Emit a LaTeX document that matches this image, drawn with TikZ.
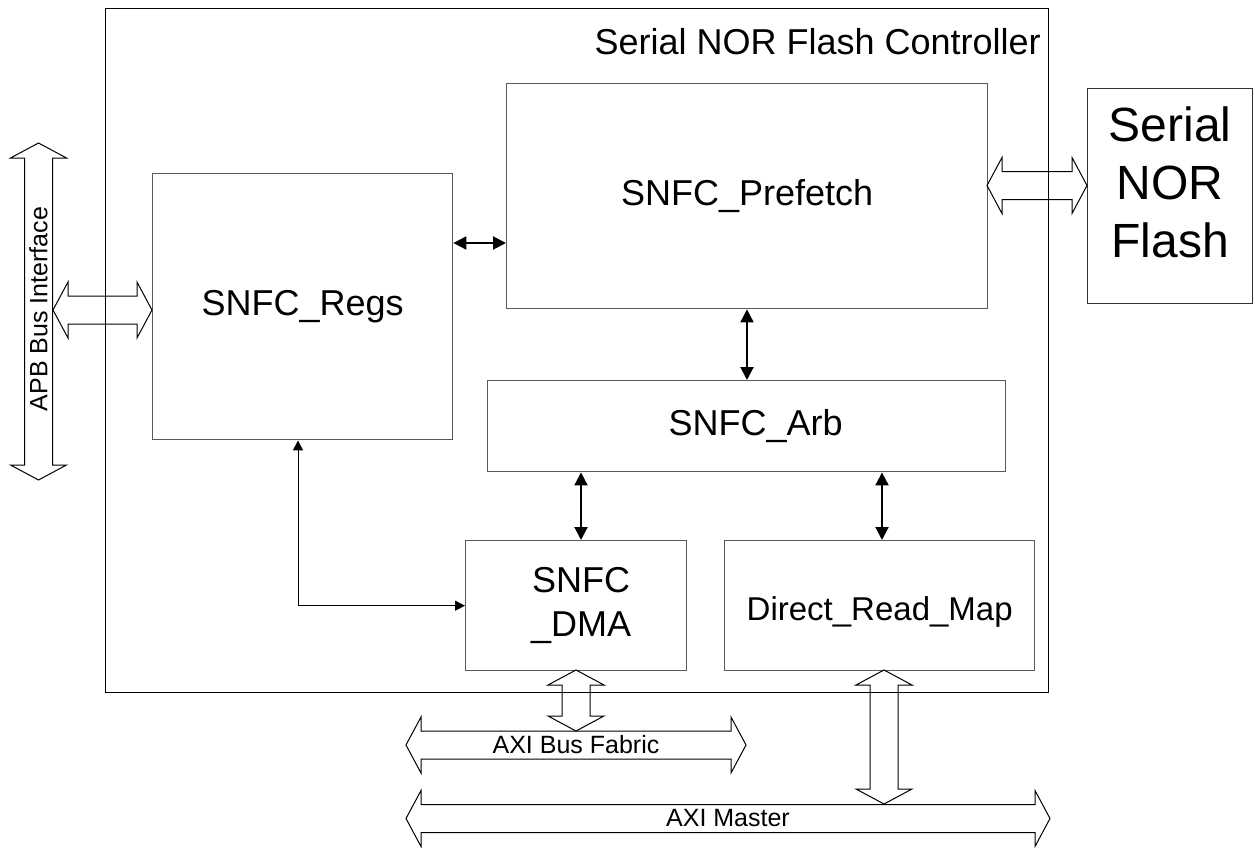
\documentclass[tikz,border=0pt]{standalone}
\usepackage{fontspec}
\setmainfont{Liberation Sans}
\usetikzlibrary{arrows.meta,calc}
\newcommand\hbusarrow[3]{%
  \draw[bus] (#1,#3) -- (#1+15,#3-28) -- (#1+15,#3-14) -- (#2-15,#3-14) -- (#2-15,#3-28) -- (#2,#3)
    -- (#2-15,#3+28) -- (#2-15,#3+14) -- (#1+15,#3+14) -- (#1+15,#3+28) -- cycle;}
\newcommand\vbusarrow[3]{%
  \draw[bus] (#1,#2) -- (#1+28,#2+15) -- (#1+14,#2+15) -- (#1+14,#3-15) -- (#1+28,#3-15) -- (#1,#3)
    -- (#1-28,#3-15) -- (#1-14,#3-15) -- (#1-14,#2+15) -- (#1-28,#2+15) -- cycle;}
\begin{document}
\begin{tikzpicture}[x=1pt,y=-1pt,
  blk/.style={draw=black!65, line width=1.4pt, inner sep=0pt, anchor=north west},
  lbl/.style={font=\fontsize{36}{44}\selectfont, align=center, inner sep=0pt},
  bus/.style={draw=black, line width=1pt, line join=miter},
  busl/.style={font=\fontsize{25}{29}\selectfont},
  tarr/.style={line width=2pt, {Triangle[length=13pt,width=13pt]}-{Triangle[length=13pt,width=13pt]}},
  narr/.style={line width=1pt, {Triangle[length=10pt,width=10pt]}-{Triangle[length=10pt,width=10pt]}}]
\useasboundingbox (0,0) rectangle (1255,848);

% outer controller box
\node[blk, draw=black, line width=1.2pt, minimum width=943pt, minimum height=684pt] (ctl) at (105,8) {};
\node[lbl, anchor=base east] (title) at (1041,55) {Serial NOR Flash Controller};

% blocks
\node[blk, minimum width=481pt, minimum height=225pt] (pre) at (506,83) {};
\node[lbl] (pretxt) at (pre.center) {SNFC\_Prefetch};
\node[blk, minimum width=300pt, minimum height=266pt] (regs) at (152,173) {};
\node[lbl] (regstxt) at (regs.center) {SNFC\_Regs};
\node[blk, minimum width=518pt, minimum height=91pt] (arb) at (487,380) {};
\node[lbl] (arbtxt) at ($(arb.center)+(9,0)$) {SNFC\_Arb};
\node[blk, minimum width=221pt, minimum height=130pt] (dma) at (465,540) {};
\node[lbl] (dmatxt) at ($(dma.center)+(5,0)$) {SNFC\\\_DMA};
\node[blk, minimum width=310pt, minimum height=130pt] (drm) at (724,540) {};
\node[lbl, font=\fontsize{33}{40}\selectfont] (drmtxt) at ($(drm.center)+(0,6)$) {Direct\_Read\_Map};
\node[blk, draw=black!80, minimum width=165pt, minimum height=215pt] (flash) at (1087,88) {};
\node[lbl, font=\fontsize{48}{58}\selectfont] (flashtxt) at ($(flash.center)+(0,-14)$) {Serial\\NOR\\Flash};

% thin connectors
\coordinate (ry) at (0,243);
\draw[tarr] (regs.east |- ry) -- (pre.west |- ry);
\coordinate (px) at (747,0);
\draw[tarr] (pre.south -| px) -- (arb.north -| px);
\coordinate (ax1) at (581,0);
\draw[tarr] (arb.south -| ax1) -- (dma.north -| ax1);
\coordinate (ax2) at (882,0);
\draw[tarr] (arb.south -| ax2) -- (drm.north -| ax2);
\coordinate (rx) at (298,0);
\draw[narr] (regs.south -| rx) |- (dma.west);

% bus arrows
\vbusarrow{38.5}{143}{480}
\node[busl, rotate=90] (apb) at (38.5,309) {APB Bus Interface};
\hbusarrow{53}{152}{310}
\hbusarrow{987}{1087}{185.5}
\vbusarrow{576}{670}{731}
\hbusarrow{406}{746}{745}
\node[busl] (fab) at (576,745) {AXI Bus Fabric};
\vbusarrow{884}{670}{804}
\hbusarrow{406}{1050}{818.5}
\node[busl] (mst) at (728,818.5) {AXI Master};
\end{tikzpicture}
\end{document}
